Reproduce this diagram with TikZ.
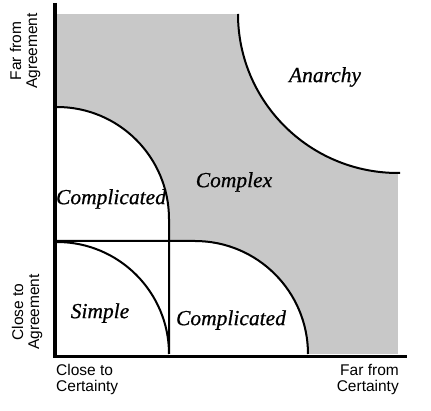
\documentclass[tikz,border=0pt]{standalone}
\usepackage{fontspec}
\setmainfont{Liberation Serif}
\newfontfamily\axisfont{Liberation Sans}
\newfontfamily\regionfont[FakeBold=0.6]{Liberation Serif}
\begin{document}
\begin{tikzpicture}[x=1pt,y=-1pt,
  region/.style={font=\regionfont\fontsize{21.5}{24}\selectfont\itshape},
  axislabel/.style={font=\axisfont\fontsize{15.5}{16}\selectfont, inner sep=0pt},
  curve/.style={line width=2pt, black},
  axis/.style={line width=3.5pt, black}]
\useasboundingbox (0,0) rectangle (431,411);
\definecolor{zonegray}{RGB}{200,200,200}
% gray field
\fill[zonegray] (57,14) rectangle (398,354);
% white zones
\fill[white] (238,14) arc[start angle=180,end angle=90,x radius=160,y radius=159] -- (398,14) -- cycle;
\fill[white] (57,107) arc[start angle=-90,end angle=0,radius=112] -- (169,241) -- (57,241) -- cycle;
\fill[white] (57,241) rectangle (169,354);
\fill[white] (169,242) -- (195,242) arc[start angle=-90,end angle=0,radius=112] -- (169,354) -- cycle;
% boundaries
\draw[curve] (238,14) arc[start angle=180,end angle=90,x radius=160,y radius=159] -- (400,173);
\draw[curve] (57,107) arc[start angle=-90,end angle=0,radius=112] -- (169,354);
\draw[curve] (57,241) -- (195,241) arc[start angle=-90,end angle=0,radius=113];
\draw[curve] (57,242) arc[start angle=-90,end angle=0,radius=112];
% axes
\draw[axis] (55,3) -- (55,356.7) -- (407,356.7);
\coordinate (origin) at (55,355);
% region labels
\node[region] (anarchy) at (325,77) {Anarchy};
\node[region] (complex) at (234,182) {Complex};
\node[region] (compUL) at (111,199) {Complicated};
\node[region] (simple) at (100,313) {Simple};
\node[region] (compLR) at (231,320) {Complicated};
% axis labels
\node[axislabel, rotate=90, align=center] (farAgr) at (25,51) {Far from\\Agreement};
\node[axislabel, rotate=90, align=center] (closeAgr) at (27,312) {Close to\\Agreement};
\node[axislabel, align=left, anchor=north west] (closeCert) at (56,364) {Close to\\Certainty};
\node[axislabel, align=right, anchor=north east] (farCert) at (399,364) {Far from\\Certainty};
\end{tikzpicture}
\end{document}
